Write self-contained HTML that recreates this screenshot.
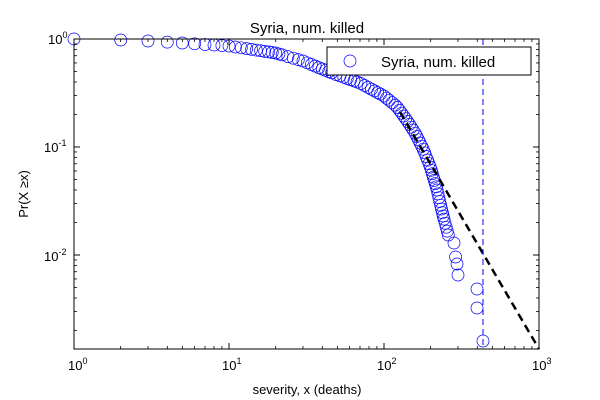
<!DOCTYPE html>
<html><head><meta charset="utf-8"><style>
html,body{margin:0;padding:0;background:#fff;}
svg{display:block;font-family:"Liberation Sans","DejaVu Sans",sans-serif;}
</style></head><body>
<svg id="s" width="600" height="400" xmlns="http://www.w3.org/2000/svg">
<rect width="600" height="400" fill="#fff"/>
<g id="pts" fill="none" stroke="#0000ff" stroke-width="0.7"></g>
<line x1="400" y1="112" x2="539" y2="349" stroke="#000" stroke-width="2.5" stroke-dasharray="8,5"/>
<line x1="483" y1="39" x2="483" y2="349" stroke="#0000ff" stroke-width="1" stroke-dasharray="6,4"/>
<rect x="74" y="39" width="465" height="310" fill="none" stroke="#000" stroke-width="1"/>
<g id="ticks" stroke="#000" stroke-width="0.8"></g>
<g font-size="13" fill="#000">
<text x="307" y="33" text-anchor="middle" font-size="15">Syria, num. killed</text>
<text x="307" y="394" text-anchor="middle">severity, x (deaths)</text>
<text transform="translate(28,194) rotate(-90)" text-anchor="middle">Pr(X ≥x)</text>
<text x="68" y="370">10<tspan font-size="9" dy="-6">0</tspan></text>
<text x="222" y="370">10<tspan font-size="9" dy="-6">1</tspan></text>
<text x="377" y="370">10<tspan font-size="9" dy="-6">2</tspan></text>
<text x="532" y="370">10<tspan font-size="9" dy="-6">3</tspan></text>
<text x="48" y="44">10<tspan font-size="9" dy="-6">0</tspan></text>
<text x="44" y="152">10<tspan font-size="9" dy="-6">-1</tspan></text>
<text x="44" y="261">10<tspan font-size="9" dy="-6">-2</tspan></text>
</g>
<rect x="327" y="47" width="204" height="28" fill="#fff" stroke="#000" stroke-width="1"/>
<circle cx="350" cy="61" r="6" fill="none" stroke="#0000ff" stroke-width="0.7"/>
<text x="381" y="67" font-size="15">Syria, num. killed</text>
</svg>
<script>
var X0=74,XD=155,Y0=39,YD=108,ns="http://www.w3.org/2000/svg";
function px(x){return X0+XD*Math.log10(x);}
var kp=[[1,39],[2,40],[3,41],[5,43],[10,46],[20,53],[30,61],[40,69],[50,75],[70,83],[100,96],[120,106],[140,120],[160,134],[180,150],[200,168],[220,190],[240,215],[260,235]];
function yf(x){for(var i=1;i<kp.length;i++){if(x<=kp[i][0]){var a=kp[i-1],b=kp[i];var t=(Math.log(x)-Math.log(a[0]))/(Math.log(b[0])-Math.log(a[0]));return a[1]+t*(b[1]-a[1]);}}return 235;}
var g=document.getElementById('pts');
function c(x,y){var e=document.createElementNS(ns,'circle');e.setAttribute('cx',x.toFixed(1));e.setAttribute('cy',y.toFixed(1));e.setAttribute('r',6);g.appendChild(e);}
var lx=-99,ly=-99;
for(var x=1;x<=260;x++){var X=px(x),Y=yf(x);if(x<=10||Math.hypot(X-lx,Y-ly)>=3.2||x==260){c(X,Y);lx=X;ly=Y;}}
[[454,243],[455.6,257],[457,264],[458,275],[477,289],[477,308],[483,341]].forEach(function(p){c(p[0],p[1]);});
var t=document.getElementById('ticks');
function l(x1,y1,x2,y2){var e=document.createElementNS(ns,'line');e.setAttribute('x1',x1);e.setAttribute('y1',y1);e.setAttribute('x2',x2);e.setAttribute('y2',y2);t.appendChild(e);}
for(var d=0;d<3;d++)for(var m=1;m<=10;m++){var xx=X0+XD*(d+Math.log10(m));var L=(m==1||m==10)?6:3;l(xx,349,xx,349-L);l(xx,39,xx,39+L);}
for(var d=0;d<3;d++)for(var m=1;m<=10;m++){var yy=Y0+YD*(d+1-Math.log10(m));if(yy>349)continue;var L=(m==1||m==10)?6:3;l(74,yy,74+L,yy);l(539,yy,539-L,yy);}
</script>
</body></html>
